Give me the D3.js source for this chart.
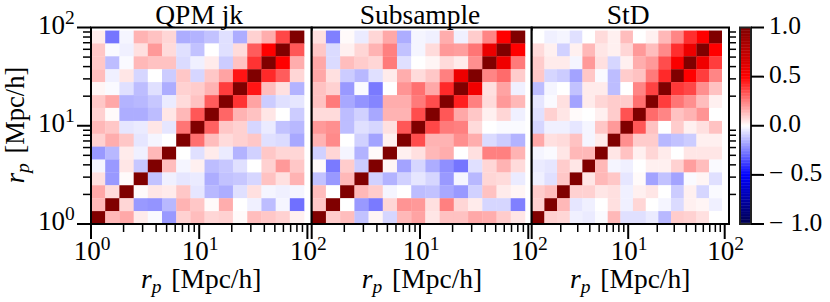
<!DOCTYPE html>
<html>
<head>
<meta charset="utf-8">
<script src="https://cdnjs.cloudflare.com/ajax/libs/d3/7.8.5/d3.min.js"></script>
<style>
  html, body { margin: 0; padding: 0; background: #fff; }
  text { font-family: "Liberation Serif", serif; fill: #000; }
</style>
</head>
<body>
<svg id="chart" width="830" height="302"></svg>
<script>
// bin edges in rp, low to high
var rpEdges = [1, 1.353, 1.83, 2.48, 3.35, 4.53, 6.13, 8.3, 11.2, 15.2, 20.5, 27.8, 37.6, 50.9, 68.8, 93.1];

var panelTitles = ["QPM jk", "Subsample", "StD"];
var majorTicks = [1, 10, 100];
var minorTicks = [2, 3, 4, 5, 6, 7, 8, 9, 20, 30, 40, 50, 60, 70, 80, 90];
var colorTicks = [1, 0.5, 0, -0.5, -1];

// rows listed top to bottom as seen in the picture
var qpmJk = [
  [.04,-.27,-.02,.15,.12,.08,-.16,-.15,-.12,-.06,-.16,.09,.16,.36,1],
  [.11,-.01,-.03,.06,.2,.07,-.06,-.12,0,-.06,.07,.32,.5,1,.33],
  [.11,-.13,-.01,.14,.12,.12,-.07,-.03,.04,-.1,.12,.4,1,.5,.16],
  [.13,-.03,.05,-.08,0,-.1,.11,-.08,.11,.18,.46,1,.42,.32,.08],
  [.02,-.01,-.06,-.13,-.06,-.16,.09,.1,.15,.38,1,.46,.13,.06,-.15],
  [.11,.17,-.15,-.14,-.11,-.04,.07,.12,.32,1,.4,.18,-.1,-.06,-.05],
  [.09,.01,-.16,-.16,-.13,.05,.14,.33,1,.3,.15,.12,.05,0,-.1],
  [.14,.11,-.05,-.04,.05,-.05,.27,1,.31,.11,.09,-.08,-.04,-.12,-.14],
  [.09,.16,.11,-.05,-.02,0,1,.28,.13,.07,.09,.11,-.06,-.07,-.17],
  [-.2,-.14,.04,-.03,.14,1,0,-.06,.04,-.04,-.15,-.09,.11,.08,.08],
  [-.02,-.2,.05,-.11,1,.13,-.02,.03,-.13,-.11,-.06,0,.09,.2,.11],
  [.06,-.2,.01,1,-.12,-.03,-.05,-.04,-.16,-.12,-.11,-.08,.12,.06,.15],
  [.17,.07,1,.01,.05,.04,.11,-.05,-.14,-.16,-.06,.06,-.02,-.03,-.02],
  [.14,1,.08,-.2,-.21,-.14,.15,.11,.01,.16,0,-.03,-.13,-.02,-.28],
  [1,.14,.17,.04,-.01,-.2,.09,.13,.08,.09,.01,.13,.11,.09,.03]
];
var subsample = [
  [.06,-.25,.01,-.04,.08,.17,-.16,-.02,-.03,.16,-.03,.1,.24,.5,1],
  [.11,-.07,.03,.08,.15,.25,-.12,-.02,.07,.2,.19,.27,.58,1,.5],
  [.17,-.07,.13,.1,.08,.26,-.06,0,.02,.07,.04,.22,1,.56,.26],
  [.17,.06,-.1,-.14,-.06,.04,.16,.07,.11,.25,.57,1,.24,.29,.1],
  [.12,.09,-.2,-.01,-.26,0,.21,.28,.17,.42,1,.55,.06,.18,-.03],
  [.12,.26,-.17,-.21,-.24,.16,.16,.26,.35,1,.44,.25,.07,.2,.14],
  [.07,.07,-.13,-.09,-.17,.15,.15,.35,1,.33,.17,.11,.03,.08,-.03],
  [.2,.22,-.13,-.06,-.08,.06,.33,1,.36,.26,.25,.07,0,-.01,-.01],
  [.15,.23,0,-.09,-.18,.03,1,.35,.15,.15,.22,.16,-.07,-.1,-.15],
  [-.09,.08,-.02,-.15,.01,1,.03,.06,.14,.16,0,.06,.25,.25,.15],
  [.01,-.26,.1,-.1,1,.02,-.18,-.08,-.16,-.22,-.27,-.06,.08,.15,.07],
  [-.12,-.2,.14,1,-.09,-.15,-.09,-.05,-.08,-.2,-.02,-.14,.08,.07,-.04],
  [.13,0,1,.14,.1,-.02,0,-.13,-.12,-.17,-.2,-.09,.12,.04,.02],
  [.11,1,0,-.2,-.26,.08,.21,.2,.06,.25,.08,.04,-.08,-.08,-.25],
  [1,.1,.13,-.12,.02,-.08,.14,.18,.05,.12,.12,.17,.16,.1,.05]
];
var stdDev = [
  [0,-.03,-.02,-.06,0,.07,.03,.13,0,.03,.14,.24,.41,.5,1],
  [.07,.03,-.09,.03,.14,.05,.03,.08,.2,.13,.23,.41,.57,1,.5],
  [.1,.04,.04,-.02,.2,.06,-.08,.03,.16,.2,.35,.52,1,.56,.38],
  [.11,-.08,-.1,-.18,.11,-.01,-.13,.1,.12,.26,.42,1,.5,.38,.24],
  [-.13,-.02,0,-.12,.04,.04,-.13,0,.24,.37,1,.39,.36,.22,.12],
  [-.05,-.01,.06,-.18,.04,.08,.1,.1,.28,1,.38,.27,.22,.13,.03],
  [-.06,.09,.05,.01,0,.03,.1,.34,1,.29,.24,.12,.15,.21,0],
  [-.08,-.03,-.03,-.05,-.02,.11,.2,1,.33,.12,0,.1,.03,.06,.12],
  [.17,.06,.07,.12,-.02,.04,1,.22,.1,.1,-.14,-.12,-.1,.03,.03],
  [-.02,-.01,.05,.14,.14,1,.05,.12,.03,.08,.04,0,.05,.05,.05],
  [-.04,-.05,.1,.05,1,.14,-.02,-.03,0,.03,.03,.09,.19,.13,-.01],
  [-.03,-.06,.11,1,.05,.14,.11,-.05,.01,-.18,-.12,-.18,-.01,.02,-.06],
  [.1,.13,1,.09,.09,.05,.06,-.03,.03,.05,0,-.1,.03,-.08,-.01],
  [.09,1,.14,-.05,-.03,0,.06,-.03,.08,0,-.02,-.07,.03,.02,-.03],
  [1,.09,.08,-.03,-.04,-.01,.14,-.06,-.06,-.04,-.14,.1,.09,.06,0]
];
var matrices = [qpmJk, subsample, stdDev];

var svg = d3.select("#chart");
var top_ = 27.5, bottom = 224;

// seismic colormap
var color = d3.scaleLinear()
    .domain([-1, -0.5, 0, 0.5, 1])
    .range(["#00004d", "#0000ff", "#ffffff", "#ff0000", "#800000"]);

var y = d3.scaleLog().domain([1, 100]).range([bottom, top_]);

// left edge, pixels per decade and right edge of each panel
var panels = [
  {left: 91, decade: 108.2, right: 311.7},
  {left: 311.7, decade: 108.3, right: 531.7},
  {left: 531.7, decade: 96.5, right: 729}
];

function powerLabel(sel, anchorX, anchorY, exp, anchor) {
    var t = sel.append("text").attr("x", anchorX).attr("y", anchorY)
        .attr("text-anchor", anchor).style("font-size", "27px");
    t.append("tspan").text("10");
    t.append("tspan").attr("dy", -10).style("font-size", "19.5px").text(exp);
}

function rpLabel(sel) {
    sel.append("tspan").style("font-style", "italic").text("r");
    sel.append("tspan").style("font-style", "italic").style("font-size", "19.5px").attr("dy", 5).text("p");
    sel.append("tspan").attr("dy", -5).attr("dx", 3).text(" [Mpc/h]");
}

panels.forEach(function(p, idx) {
    var g = svg.append("g");
    var x = d3.scaleLog()
        .domain([1, Math.pow(10, (p.right - p.left) / p.decade)])
        .range([p.left, p.right]);

    var rows = g.selectAll(".row").data(matrices[idx]).enter().append("g").attr("class", "row");
    rows.each(function(row, r) {
        d3.select(this).selectAll("rect").data(row).enter().append("rect")
            .attr("x", function(d, c) { return x(rpEdges[c]); })
            .attr("width", function(d, c) { return x(rpEdges[c + 1]) - x(rpEdges[c]) + 0.3; })
            .attr("y", y(rpEdges[15 - r]))
            .attr("height", y(rpEdges[14 - r]) - y(rpEdges[15 - r]) + 0.3)
            .attr("fill", function(d) { return color(d); });
    });

    // x ticks
    g.selectAll(".xmaj").data(majorTicks).enter().append("line")
        .attr("x1", x).attr("x2", x).attr("y1", bottom).attr("y2", bottom + 15)
        .attr("stroke", "#000").attr("stroke-width", 2);
    g.selectAll(".xmin").data(minorTicks).enter().append("line")
        .attr("x1", x).attr("x2", x).attr("y1", bottom).attr("y2", bottom + 8)
        .attr("stroke", "#000").attr("stroke-width", 1.5);
    // only the first panel labels 10^0, the others would run into the previous 10^2
    majorTicks.forEach(function(t, i) {
        if (idx == 0 || i > 0) powerLabel(g, x(t) + 1, 260, i, "middle");
    });

    // y ticks: full axis on the first panel, minor ticks only on the right of the last
    if (idx == 0) {
        g.selectAll(".ymaj").data(majorTicks).enter().append("line")
            .attr("y1", y).attr("y2", y).attr("x1", p.left - 14).attr("x2", p.left)
            .attr("stroke", "#000").attr("stroke-width", 2);
        g.selectAll(".ymin").data(minorTicks).enter().append("line")
            .attr("y1", y).attr("y2", y).attr("x1", p.left - 8).attr("x2", p.left)
            .attr("stroke", "#000").attr("stroke-width", 1.5);
        majorTicks.forEach(function(t, i) {
            powerLabel(g, 38, y(t) + 6, i, "start");
        });
    }
    if (idx == 2) {
        g.selectAll(".yrmin").data(minorTicks).enter().append("line")
            .attr("y1", y).attr("y2", y).attr("x1", p.right).attr("x2", p.right + 7)
            .attr("stroke", "#000").attr("stroke-width", 1.5);
    }

    g.append("rect")
        .attr("x", p.left).attr("y", top_)
        .attr("width", p.right - p.left).attr("height", bottom - top_)
        .attr("fill", "none").attr("stroke", "#000").attr("stroke-width", 2);

    g.append("text")
        .attr("x", x(10)).attr("y", 24)
        .attr("text-anchor", "middle").style("font-size", "27.5px")
        .text(panelTitles[idx]);

    g.append("text")
        .attr("x", x(10) + 2).attr("y", 288)
        .attr("text-anchor", "middle").style("font-size", "27.5px")
        .call(rpLabel);
});

svg.append("text")
    .attr("transform", "translate(24,125) rotate(-90)")
    .attr("text-anchor", "middle").style("font-size", "26.5px")
    .call(rpLabel);

// colorbar
var cbY = d3.scaleLinear().domain([-1, 1]).range([bottom, top_]);
var cb = svg.append("g");
var levels = d3.range(-1, 1, 2 / 128);
cb.selectAll("rect").data(levels).enter().append("rect")
    .attr("x", 740).attr("width", 11)
    .attr("y", function(d) { return cbY(d + 2 / 128) - 0.2; })
    .attr("height", cbY(-1) - cbY(-1 + 2 / 128) + 0.4)
    .attr("fill", function(d) { return color(d + 1 / 128); });
cb.append("rect")
    .attr("x", 740).attr("y", top_).attr("width", 11).attr("height", bottom - top_)
    .attr("fill", "none").attr("stroke", "#222").attr("stroke-width", 2);
cb.selectAll("line").data(colorTicks).enter().append("line")
    .attr("x1", 751).attr("x2", 764).attr("y1", cbY).attr("y2", cbY)
    .attr("stroke", "#000").attr("stroke-width", 2);
colorTicks.forEach(function(t) {
    var txt = cb.append("text").attr("x", 769).attr("y", cbY(t) + 6.5).style("font-size", "25.5px");
    if (t < 0) {
        txt.append("tspan").text("\u2212");
        txt.append("tspan").attr("dx", 7).text(d3.format(".1f")(-t));
    } else {
        txt.text(d3.format(".1f")(t));
    }
});
</script>
</body>
</html>
